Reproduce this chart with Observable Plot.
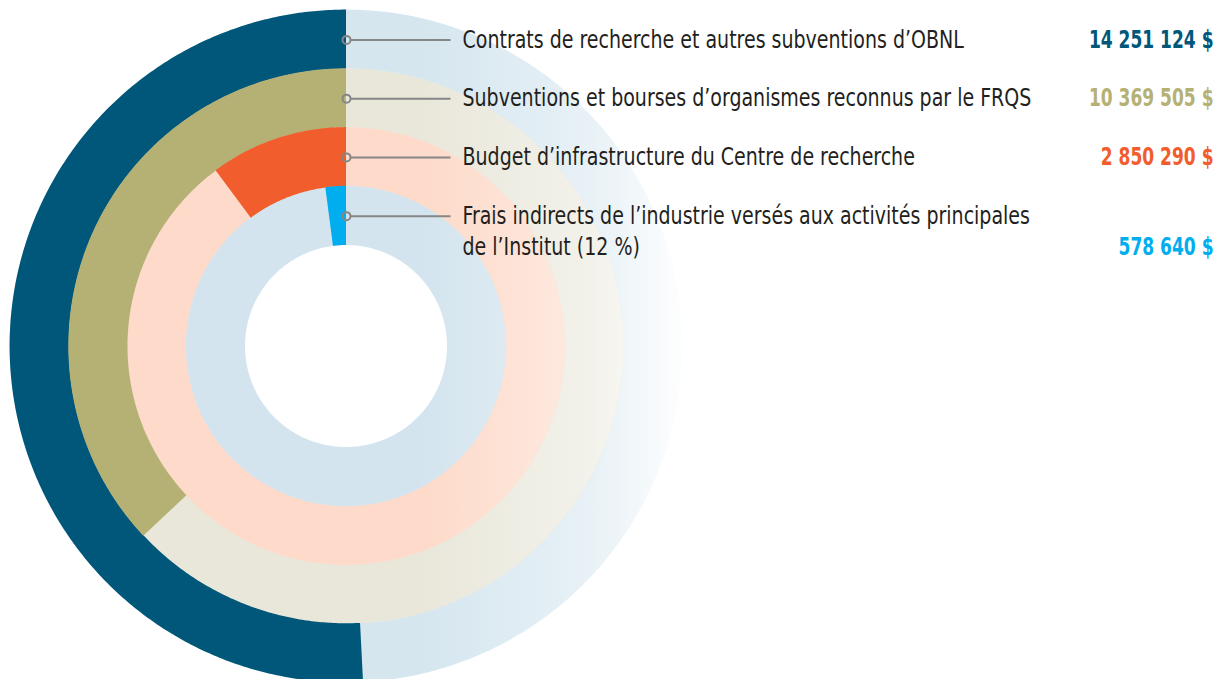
<!DOCTYPE html>
<html><head><meta charset="utf-8">
<script src="https://cdn.jsdelivr.net/npm/d3@7"></script>
<script src="https://cdn.jsdelivr.net/npm/@observablehq/plot@0.6"></script>
<style>
body{margin:0;background:#fff;}
#chart svg{display:block;}
</style>
</head><body><div id="chart"></div>
<script>
const categories = [
  "Contrats de recherche et autres subventions d’OBNL",
  "Subventions et bourses d’organismes reconnus par le FRQS",
  "Budget d’infrastructure du Centre de recherche",
  "Frais indirects de l’industrie versés aux activités principales de l’Institut (12 %)"
];
const labelLines = [
  ["Contrats de recherche et autres subventions d’OBNL"],
  ["Subventions et bourses d’organismes reconnus par le FRQS"],
  ["Budget d’infrastructure du Centre de recherche"],
  ["Frais indirects de l’industrie versés aux activités principales", "de l’Institut (12 %)"]
];
const values = [14251124, 10369505, 2850290, 578640];
const valueLabels = ["14 251 124 $", "10 369 505 $", "2 850 290 $", "578 640 $"];
const colors = ["#00577a", "#b5b175", "#f15d2c", "#00aeef"];
const trackColors = ["#d5e6ef", "#e9e7da", "#fddac9", "#d3e4ee"];

const W = 1217, H = 679;
const R0 = 336, RW = 58.75, LINE = 31;
const total = d3.sum(values);
const rings = values.map((v, i) => ({
  i, name: categories[i], value: v,
  rOut: R0 - RW * i + 0.4,
  rIn: R0 - RW * (i + 1),
  rMid: R0 - RW * i - RW / 2,
  angle: v / total * 360,
  color: colors[i], track: trackColors[i]
}));

function arcPoints(ring, deg) {
  const n = Math.max(2, Math.ceil(deg * 2));
  return d3.range(n + 1).map(k => {
    const t = (deg * k / n) * Math.PI / 180;
    const s = -Math.sin(t), c = Math.cos(t);
    return {ring: ring.i, xi: ring.rIn * s, yi: ring.rIn * c, xo: ring.rOut * s, yo: ring.rOut * c};
  });
}

const trackMarks = rings.map(r => Plot.area(arcPoints(r, 360), {
  x1: "xi", y1: "yi", x2: "xo", y2: "yo", fill: `url(#fade${r.i})`
}));
const arcMarks = rings.map(r => Plot.area(arcPoints(r, r.angle), {
  x1: "xi", y1: "yi", x2: "xo", y2: "yo", fill: r.color
}));

const textRows = rings.flatMap(r => labelLines[r.i].map((t, k) => ({text: t, y: r.rMid - k * LINE})));
const valueRows = rings.map(r => ({text: valueLabels[r.i], color: r.color, y: r.rMid - (labelLines[r.i].length - 1) * LINE}));

const defs = (index, scales) => {
  const x = scales.x;
  const stops = [[-20, 1], [74, 1], [189, 0.7], [248, 0.55], [277, 0.38], [344, 0]];
  const x1 = x(-20), x2 = x(344);
  const g = d3.create("svg:defs");
  rings.forEach(r => {
    const lg = g.append("linearGradient").attr("id", `fade${r.i}`)
      .attr("gradientUnits", "userSpaceOnUse")
      .attr("x1", x1).attr("x2", x2).attr("y1", 0).attr("y2", 0);
    stops.forEach(([sx, o]) => {
      lg.append("stop").attr("offset", (x(sx) - x1) / (x2 - x1))
        .attr("stop-color", r.track).attr("stop-opacity", o);
    });
  });
  return g.node();
};

const chart = Plot.plot({
  width: W, height: H,
  margin: 0,
  x: {domain: [-346, W - 346], axis: null},
  y: {domain: [-(H - 346), 346], axis: null},
  style: {fontFamily: "'Liberation Sans Narrow', 'DejaVu Sans Condensed', sans-serif", background: "#fff"},
  marks: [
    defs,
    ...trackMarks,
    ...arcMarks,
    Plot.link(rings, {x1: 4, x2: 104, y1: "rMid", y2: "rMid", stroke: "#868686", strokeWidth: 2}),
    Plot.dot(rings, {x: 0, y: "rMid", r: 4, stroke: "#868686", strokeWidth: 2, fill: "none"}),
    Plot.text(textRows, {x: 116, y: "y", text: "text", textAnchor: "start", fontSize: 24, fill: "#231f20"}),
    Plot.text(valueRows, {x: W - 346 - 4, y: "y", text: "text", textAnchor: "end", fontSize: 24, fontWeight: "bold", fill: "color"})
  ]
});
document.getElementById("chart").append(chart);
// condense text horizontally, as in the reference's condensed typeface
chart.querySelectorAll("text").forEach(t => {
  const isValue = valueLabels.includes(t.textContent);
  const len = t.getComputedTextLength();
  t.setAttribute("textLength", len * (isValue ? 0.79 : 0.88));
  t.setAttribute("lengthAdjust", "spacingAndGlyphs");
});
</script>
</body></html>
